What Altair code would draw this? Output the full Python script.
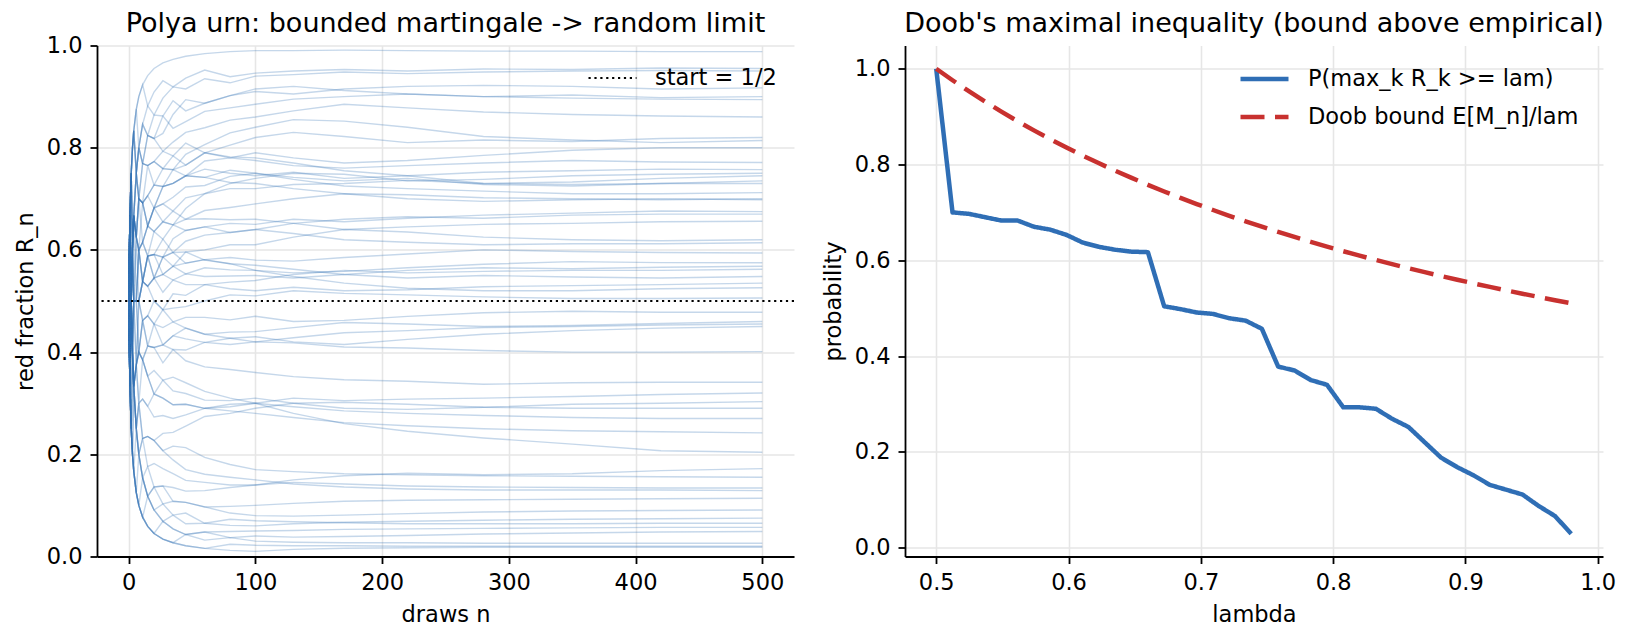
import altair as alt
import pandas as pd

FONT = "DejaVu Sans"
BLUE = "#2f6eb5"
RED = "#c8312f"

# ---- left panel: Polya urn red-fraction paths ----
draws = [0, 1, 2, 3, 4, 6, 8, 11, 15, 20, 27, 35, 45, 60, 80, 100, 130, 170, 220, 280, 350, 420, 500]

path_values = [
    [.5, .667, .75, .8, .833, .875, .9, .923, .941, .955, .966, .973, .979, .984, .988, .99, .99, .991, .99, .989, .989, .988, .988],
    [.5, .667, .75, .8, .833, .875, .9, .923, .882, .909, .931, .919, .936, .952, .939, .946, .95, .953, .95, .954, .953, .956, .955],
    [.5, .667, .75, .8, .833, .75, .8, .846, .882, .864, .897, .919, .915, .935, .927, .94, .943, .948, .945, .948, .95, .951, .95],
    [.5, .667, .75, .8, .833, .875, .8, .846, .824, .864, .862, .892, .872, .887, .902, .91, .905, .915, .92, .922, .92, .915, .917],
    [.5, .667, .5, .6, .667, .75, .8, .769, .824, .818, .862, .838, .851, .871, .878, .885, .895, .9, .905, .9, .903, .898, .9],
    [.5, .667, .75, .6, .667, .75, .8, .846, .824, .818, .828, .865, .894, .887, .902, .915, .92, .912, .905, .9, .897, .895, .894],
    [.5, .667, .75, .8, .833, .75, .7, .769, .765, .773, .793, .811, .83, .839, .854, .86, .872, .885, .878, .87, .865, .862, .86],
    [.5, .667, .5, .6, .667, .625, .7, .769, .765, .773, .759, .784, .766, .79, .805, .82, .83, .822, .81, .815, .812, .818, .82],
    [.5, .333, .5, .6, .667, .625, .6, .692, .706, .727, .724, .757, .787, .806, .829, .84, .855, .852, .84, .822, .815, .81, .814],
    [.5, .667, .75, .6, .667, .625, .7, .692, .647, .682, .724, .73, .745, .774, .78, .79, .78, .77, .775, .785, .795, .8, .8],
    [.5, .667, .75, .8, .833, .75, .8, .769, .824, .818, .793, .784, .809, .79, .78, .775, .765, .76, .765, .77, .775, .772, .771],
    [.5, .667, .5, .4, .5, .625, .6, .615, .647, .682, .724, .73, .745, .758, .75, .745, .752, .74, .745, .752, .755, .758, .757],
    [.5, .333, .5, .6, .5, .5, .6, .615, .588, .636, .655, .676, .702, .71, .73, .74, .75, .748, .735, .738, .745, .748, .75],
    [.5, .667, .75, .6, .667, .75, .7, .692, .765, .727, .759, .757, .766, .79, .782, .78, .77, .755, .745, .73, .733, .74, .745],
    [.5, .667, .5, .6, .667, .75, .7, .692, .706, .682, .69, .703, .723, .726, .744, .75, .742, .735, .74, .728, .725, .73, .735],
    [.5, .333, .5, .4, .5, .5, .5, .538, .588, .591, .621, .649, .681, .71, .72, .72, .728, .73, .736, .73, .728, .73, .73],
    [.5, .667, .75, .6, .667, .625, .7, .692, .706, .727, .724, .73, .745, .742, .756, .75, .738, .725, .72, .715, .71, .71, .712],
    [.5, .667, .75, .8, .833, .75, .7, .692, .647, .682, .655, .649, .66, .677, .683, .69, .7, .71, .708, .702, .7, .698, .7],
    [.5, .667, .5, .6, .667, .75, .8, .769, .765, .773, .759, .757, .745, .742, .732, .73, .72, .71, .7, .695, .698, .7, .698],
    [.5, .333, .5, .6, .667, .625, .6, .615, .647, .636, .655, .649, .638, .645, .652, .65, .66, .655, .662, .668, .672, .676, .675],
    [.5, .667, .5, .4, .5, .5, .6, .538, .588, .591, .586, .622, .638, .645, .634, .64, .652, .66, .665, .662, .668, .67, .67],
    [.5, .667, .75, .6, .667, .625, .7, .692, .647, .682, .69, .676, .66, .661, .659, .66, .652, .64, .645, .65, .652, .655, .656],
    [.5, .333, .5, .6, .5, .5, .5, .538, .529, .545, .552, .568, .596, .6, .61, .61, .625, .64, .635, .625, .62, .618, .62],
    [.5, .667, .5, .4, .5, .375, .5, .538, .588, .545, .586, .595, .617, .629, .634, .64, .632, .62, .615, .61, .612, .612, .614],
    [.5, .667, .75, .6, .667, .625, .6, .615, .647, .636, .621, .595, .574, .581, .585, .58, .578, .585, .592, .6, .597, .595, .594],
    [.5, .333, .5, .6, .667, .625, .7, .615, .588, .591, .552, .568, .553, .565, .561, .56, .555, .558, .565, .572, .577, .575, .575],
    [.5, .667, .5, .6, .5, .5, .5, .538, .529, .545, .552, .541, .553, .548, .549, .55, .545, .552, .56, .565, .563, .566, .568],
    [.5, .333, .25, .4, .333, .375, .5, .538, .529, .545, .517, .541, .532, .532, .537, .54, .552, .56, .555, .558, .56, .56, .562],
    [.5, .667, .75, .6, .667, .625, .6, .538, .588, .591, .586, .568, .574, .581, .573, .57, .562, .552, .545, .55, .547, .545, .548],
    [.5, .333, .5, .4, .5, .5, .5, .462, .471, .5, .483, .514, .511, .532, .524, .52, .527, .52, .522, .528, .53, .532, .535],
    [.5, .667, .5, .6, .667, .5, .6, .538, .588, .545, .586, .595, .596, .58, .573, .56, .548, .535, .525, .52, .52, .524, .526],
    [.5, .333, .5, .4, .333, .375, .4, .462, .471, .455, .483, .486, .489, .5, .512, .51, .52, .515, .512, .508, .505, .505, .506],
    [.5, .667, .5, .4, .5, .5, .6, .538, .529, .5, .483, .459, .468, .468, .463, .47, .46, .462, .47, .477, .48, .478, .478],
    [.5, .333, .5, .6, .5, .5, .4, .462, .412, .455, .448, .459, .447, .435, .439, .44, .448, .458, .455, .45, .452, .456, .46],
    [.5, .667, .5, .4, .333, .375, .4, .385, .412, .409, .414, .432, .447, .435, .427, .42, .428, .438, .442, .448, .45, .453, .455],
    [.5, .333, .25, .2, .333, .375, .4, .462, .412, .409, .379, .405, .404, .419, .427, .43, .42, .415, .425, .435, .442, .447, .45],
    [.5, .667, .5, .6, .5, .5, .4, .385, .412, .409, .414, .432, .426, .419, .415, .42, .418, .41, .408, .403, .4, .4, .401],
    [.5, .333, .5, .6, .5, .625, .5, .462, .471, .455, .414, .405, .383, .371, .366, .36, .352, .346, .343, .337, .34, .341, .341],
    [.5, .333, .5, .4, .333, .25, .3, .308, .294, .318, .31, .297, .298, .29, .293, .3, .31, .305, .308, .31, .313, .317, .32],
    [.5, .667, .5, .4, .333, .375, .3, .385, .353, .318, .345, .324, .319, .306, .305, .31, .3, .29, .288, .292, .298, .3, .303],
    [.5, .333, .25, .2, .333, .25, .2, .231, .235, .227, .241, .243, .255, .274, .28, .29, .3, .302, .298, .292, .29, .29, .29],
    [.5, .333, .5, .4, .333, .375, .3, .308, .294, .273, .276, .27, .277, .29, .298, .3, .293, .285, .28, .276, .272, .27, .27],
    [.5, .667, .5, .6, .5, .375, .4, .385, .353, .318, .31, .297, .298, .29, .285, .28, .272, .262, .256, .25, .246, .244, .242],
    [.5, .333, .5, .4, .333, .375, .4, .385, .353, .364, .345, .351, .34, .323, .31, .3, .28, .26, .245, .232, .22, .207, .204],
    [.5, .333, .25, .2, .167, .25, .2, .231, .176, .182, .172, .162, .149, .145, .14, .14, .15, .158, .163, .16, .162, .168, .172],
    [.5, .333, .25, .4, .333, .25, .3, .231, .235, .227, .207, .216, .213, .194, .18, .17, .166, .162, .16, .158, .157, .156, .155],
    [.5, .333, .25, .2, .167, .125, .2, .154, .118, .136, .138, .135, .128, .129, .135, .14, .145, .142, .138, .136, .135, .134, .134],
    [.5, .667, .5, .4, .333, .25, .3, .231, .235, .227, .207, .189, .17, .161, .155, .15, .142, .136, .132, .13, .13, .13, .129],
    [.5, .333, .25, .4, .333, .25, .2, .154, .176, .136, .138, .108, .106, .097, .098, .1, .104, .108, .11, .111, .112, .113, .114],
    [.5, .333, .25, .2, .167, .125, .1, .154, .118, .136, .103, .108, .106, .097, .085, .08, .079, .081, .084, .087, .089, .09, .091],
    [.5, .333, .5, .4, .333, .25, .2, .154, .118, .091, .103, .081, .085, .065, .061, .06, .064, .067, .069, .071, .073, .074, .075],
    [.5, .333, .25, .2, .167, .125, .1, .077, .118, .091, .069, .081, .064, .065, .073, .07, .068, .066, .064, .064, .064, .065, .065],
    [.5, .333, .25, .2, .167, .125, .1, .077, .059, .045, .069, .054, .043, .048, .049, .05, .051, .053, .054, .055, .056, .057, .057],
    [.5, .333, .25, .4, .333, .25, .2, .154, .118, .091, .069, .054, .043, .048, .037, .04, .038, .039, .041, .044, .046, .048, .049],
    [.5, .333, .25, .2, .167, .125, .1, .077, .059, .045, .034, .027, .043, .032, .037, .03, .028, .027, .027, .026, .026, .026, .026],
    [.5, .333, .25, .2, .167, .125, .1, .077, .059, .045, .034, .027, .021, .016, .024, .022, .021, .021, .02, .02, .02, .02, .02],
    [.5, .333, .25, .2, .167, .125, .1, .077, .059, .045, .034, .027, .021, .016, .012, .01, .014, .016, .017, .018, .018, .018, .018],
]
assert all(len(row) == len(draws) for row in path_values)

start_level = [0.5]
start_label = ["start = 1/2"]

# ---- right panel: Doob's maximal inequality ----
lam = [0.5, 0.51231, 0.52462, 0.53692, 0.54923, 0.56154, 0.57385, 0.58615, 0.59846, 0.61077,
       0.62308, 0.63538, 0.64769, 0.66, 0.67231, 0.68462, 0.69692, 0.70923, 0.72154, 0.73385,
       0.74615, 0.75846, 0.77077, 0.78308, 0.79538, 0.80769, 0.82, 0.83231, 0.84462, 0.85692,
       0.86923, 0.88154, 0.89385, 0.90615, 0.91846, 0.93077, 0.94308, 0.95538, 0.96769, 0.98]
empirical = [1.0, 0.700, 0.697, 0.690, 0.683, 0.683, 0.670, 0.664, 0.653, 0.637,
             0.628, 0.622, 0.618, 0.617, 0.504, 0.498, 0.491, 0.488, 0.479, 0.474,
             0.457, 0.378, 0.370, 0.350, 0.340, 0.293, 0.293, 0.290, 0.269, 0.252,
             0.220, 0.188, 0.168, 0.151, 0.131, 0.121, 0.111, 0.087, 0.066, 0.029]
doob_bound = [1.0, 0.9760, 0.9531, 0.9312, 0.9104, 0.8904, 0.8713, 0.8530, 0.8355, 0.8186,
              0.8025, 0.7869, 0.7720, 0.7576, 0.7437, 0.7303, 0.7174, 0.7050, 0.6930, 0.6813,
              0.6701, 0.6592, 0.6487, 0.6385, 0.6286, 0.6190, 0.6098, 0.6007, 0.5920, 0.5835,
              0.5752, 0.5672, 0.5594, 0.5518, 0.5444, 0.5372, 0.5302, 0.5234, 0.5167, 0.5102]
series_names = ["P(max_k R_k >= lam)", "Doob bound E[M_n]/lam"]

# ---- tables ----
paths_df = pd.DataFrame(
    [{"path": i, "n": n, "R": v}
     for i, row in enumerate(path_values) for n, v in zip(draws, row)]
)
start_df = pd.DataFrame({"y": start_level, "label": start_label})
doob_df = pd.concat([
    pd.DataFrame({"lam": lam, "p": empirical, "series": series_names[0]}),
    pd.DataFrame({"lam": lam, "p": doob_bound, "series": series_names[1]}),
])

W, H = 697, 511

paths = alt.Chart(paths_df).mark_line(
    strokeWidth=1.4, opacity=0.28, color=BLUE, clip=True
).encode(
    x=alt.X("n:Q", scale=alt.Scale(domain=[-25, 525], nice=False, zero=False),
            axis=alt.Axis(values=[0, 100, 200, 300, 400, 500], format="d", title="draws n")),
    y=alt.Y("R:Q", scale=alt.Scale(domain=[0, 1], nice=False),
            axis=alt.Axis(values=[0, 0.2, 0.4, 0.6, 0.8, 1.0], format=".1f", title="red fraction R_n")),
    detail="path:N",
)

start_rule = alt.Chart(start_df).mark_rule(
    strokeDash=[2.2, 3.7], strokeWidth=2.2
).encode(
    y="y:Q",
    color=alt.Color("label:N", scale=alt.Scale(range=["black"]),
                    legend=alt.Legend(title=None, orient="none", legendX=490, legendY=7,
                                      symbolType="stroke", symbolSize=2304,
                                      symbolStrokeWidth=2.2, symbolDash=[2.2, 3.7],
                                      labelOffset=17, padding=0, labelLimit=400)),
)

left = alt.layer(paths, start_rule).properties(
    width=W, height=H,
    title=alt.TitleParams("Polya urn: bounded martingale -> random limit",
                          offset=-24.5, baseline="alphabetic"),
)

legend_right = alt.Legend(title=None, orient="none", legendX=333, legendY=7,
                          symbolType="stroke", symbolSize=2304, symbolStrokeWidth=4.5,
                          labelOffset=17, rowPadding=-4, padding=0, labelLimit=400)

right = alt.Chart(doob_df).mark_line(strokeWidth=4.5, strokeJoin="round").encode(
    x=alt.X("lam:Q", scale=alt.Scale(domain=[0.4764, 1.004], nice=False, zero=False),
            axis=alt.Axis(values=[0.5, 0.6, 0.7, 0.8, 0.9, 1.0], format=".1f", title="lambda")),
    y=alt.Y("p:Q", scale=alt.Scale(domain=[-0.0185, 1.0485], nice=False, zero=False),
            axis=alt.Axis(values=[0, 0.2, 0.4, 0.6, 0.8, 1.0], format=".1f", title="probability")),
    color=alt.Color("series:N", scale=alt.Scale(domain=series_names, range=[BLUE, RED]),
                    legend=legend_right),
    strokeDash=alt.StrokeDash("series:N",
                              scale=alt.Scale(domain=series_names, range=[[1, 0], [24, 10.5]]),
                              legend=legend_right),
).properties(
    width=698, height=H,
    title=alt.TitleParams("Doob's maximal inequality (bound above empirical)",
                          offset=-13.5, baseline="alphabetic"),
)

chart = alt.hconcat(left, right, spacing=26).resolve_scale(
    color="independent", strokeDash="independent"
).resolve_legend(
    color="independent", strokeDash="independent"
).properties(
    padding={"left": 14, "top": 9.5, "right": 5, "bottom": 5}
).configure_axis(
    labelFont=FONT, labelFontSize=22.5, labelColor="black",
    titleFont=FONT, titleFontSize=22.5, titleFontWeight="normal", titleColor="black",
    domainColor="black", domainWidth=1.8, tickColor="black", tickWidth=1.8, tickSize=7,
    labelPadding=8, titlePadding=9, gridColor="#e6e6e6", gridWidth=1.6,
    labelFlush=False, labelOverlap=False,
).configure_title(
    font=FONT, fontSize=27, fontWeight="normal", color="black", anchor="middle",
).configure_legend(
    labelFont=FONT, labelFontSize=22.5, labelColor="black",
).configure_view(stroke=None)

chart.save("out.html", embed_options={"renderer": "svg", "actions": False})
